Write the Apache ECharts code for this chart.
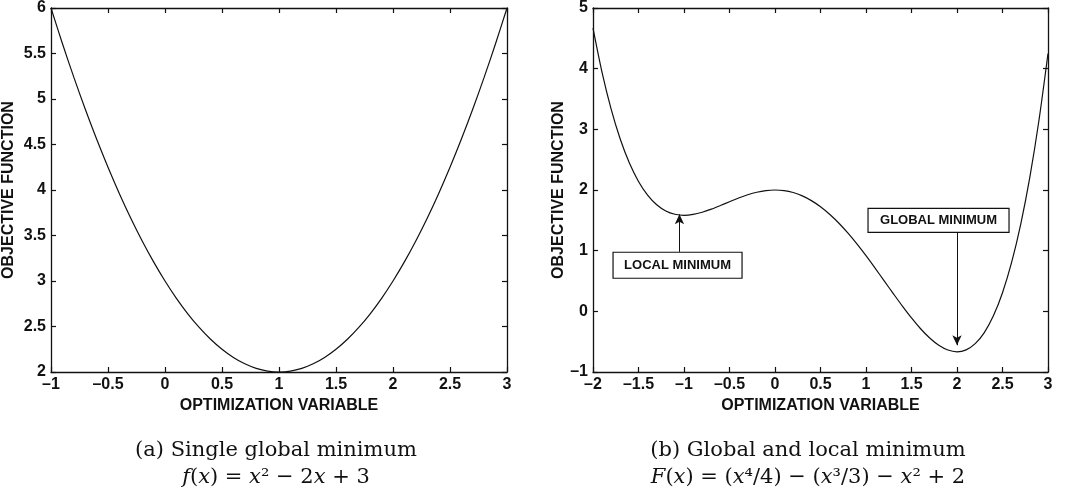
<!DOCTYPE html>
<html>
<head>
<meta charset="utf-8">
<script src="https://cdn.jsdelivr.net/npm/echarts@6/dist/echarts.min.js"></script>
<style>
	html, body { margin: 0; padding: 0; background: #fff; }
	#chart { width: 1065px; height: 496px; }
</style>
</head>
<body>
<div id="chart"></div>
<script>
// (a) f(x) = x^2 - 2x + 3
var xLeft = [-1, -0.9, -0.8, -0.7, -0.6, -0.5, -0.4, -0.3, -0.2, -0.1, 0, 0.1, 0.2, 0.3, 0.4, 0.5, 0.6, 0.7, 0.8, 0.9, 1,
	1.1, 1.2, 1.3, 1.4, 1.5, 1.6, 1.7, 1.8, 1.9, 2, 2.1, 2.2, 2.3, 2.4, 2.5, 2.6, 2.7, 2.8, 2.9, 3]
var yLeft = [6, 5.61, 5.24, 4.89, 4.56, 4.25, 3.96, 3.69, 3.44, 3.21, 3, 2.81, 2.64, 2.49, 2.36, 2.25, 2.16, 2.09, 2.04, 2.01, 2,
	2.01, 2.04, 2.09, 2.16, 2.25, 2.36, 2.49, 2.64, 2.81, 3, 3.21, 3.44, 3.69, 3.96, 4.25, 4.56, 4.89, 5.24, 5.61, 6]

// (b) F(x) = (x^4/4) - (x^3/3) - x^2 + 2
var xRight = [-2, -1.9, -1.8, -1.7, -1.6, -1.5, -1.4, -1.3, -1.2, -1.1, -1, -0.9, -0.8, -0.7, -0.6, -0.5, -0.4, -0.3, -0.2, -0.1, 0,
	0.1, 0.2, 0.3, 0.4, 0.5, 0.6, 0.7, 0.8, 0.9, 1, 1.1, 1.2, 1.3, 1.4, 1.5, 1.6, 1.7, 1.8, 1.9, 2,
	2.1, 2.2, 2.3, 2.4, 2.5, 2.6, 2.7, 2.8, 2.9, 3]
var yRight = [4.667, 3.934, 3.328, 2.836, 2.444, 2.141, 1.915, 1.756, 1.654, 1.6, 1.583, 1.597, 1.633, 1.684, 1.744, 1.807, 1.868, 1.921, 1.963, 1.99, 2,
	1.99, 1.958, 1.903, 1.825, 1.724, 1.6, 1.456, 1.292, 1.111, 0.917, 0.712, 0.502, 0.292, 0.086, -0.109, -0.287, -0.44, -0.56, -0.638, -0.667,
	-0.635, -0.533, -0.35, -0.074, 0.307, 0.806, 1.435, 2.209, 3.142, 4.25]

// axis ranges / ticks
var xTicksLeft = { min: -1, max: 3, interval: 0.5 }
var yTicksLeft = { min: 2, max: 6, interval: 0.5 }
var xTicksRight = { min: -2, max: 3, interval: 0.5 }
var yTicksRight = { min: -1, max: 5, interval: 1 }

// annotations: label, box centre (data), arrow x, arrow from y, arrow to y
var localMin = { text: 'LOCAL MINIMUM', box: [-1.071, 0.76], arrowX: -1.05, from: 0.98, to: 1.6 }
var globalMin = { text: 'GLOBAL MINIMUM', box: [1.797, 1.5], arrowX: 2, from: 1.3, to: -0.56 }

var captionA = ['(a) Single global minimum', '{i|f}({i|x}) = {i|x}² − 2{i|x} + 3']
var captionB = ['(b) Global and local minimum', '{i|F}({i|x}) = ({i|x}⁴/4) − ({i|x}³/3) − {i|x}² + 2']

var SANS = 'Liberation Sans, Arial, Helvetica, sans-serif'
var SERIF = 'DejaVu Serif, Liberation Serif, serif'

var fmt = (v) => String(v).replace('-', '–')

var mainAxis = (ticks, gridIndex, position, name, nameGap) => ({
	type: 'value',
	gridIndex: gridIndex,
	position: position,
	min: ticks.min,
	max: ticks.max,
	interval: ticks.interval,
	name: name,
	nameLocation: 'middle',
	nameGap: nameGap,
	nameTextStyle: { fontFamily: SANS, fontWeight: 'bold', fontSize: 16, color: '#111' },
	axisLine: { show: true, onZero: false, lineStyle: { color: '#111', width: 1.3 } },
	axisTick: { show: true, inside: true, length: 5, lineStyle: { color: '#111', width: 1.2 } },
	axisLabel: { show: true, formatter: fmt, fontFamily: SANS, fontWeight: 'bold', fontSize: 16, color: '#111', margin: 5 },
	splitLine: { show: false },
})

var boxAxis = (ticks, gridIndex, position) => ({
	type: 'value',
	gridIndex: gridIndex,
	position: position,
	min: ticks.min,
	max: ticks.max,
	interval: ticks.interval,
	axisLine: { show: true, onZero: false, lineStyle: { color: '#111', width: 1.3 } },
	axisTick: { show: true, inside: true, length: 5, lineStyle: { color: '#111', width: 1.2 } },
	axisLabel: { show: false },
	splitLine: { show: false },
})

var arrowLines = [localMin, globalMin].map((a) => [
	{ coord: [a.arrowX, a.from] },
	{ coord: [a.arrowX, a.to] },
])

var captionText = (cx, c) => [
	{
		type: 'text',
		x: cx,
		y: 451,
		style: { text: c[0], align: 'center', verticalAlign: 'middle', font: '21px ' + SERIF, fill: '#111' },
	},
	{
		type: 'text',
		x: cx,
		y: 478,
		style: {
			text: c[1],
			align: 'center',
			verticalAlign: 'middle',
			font: '21px ' + SERIF,
			fill: '#111',
			rich: {
				i: { fontFamily: SERIF, fontStyle: 'italic', fontSize: 21, fill: '#111' },
			},
		},
	},
]

var chart = echarts.init(document.getElementById('chart'), null, { renderer: 'canvas' })

var option = {
	animation: false,
	backgroundColor: '#fff',
	grid: [
		{ left: 51, top: 7, width: 456, height: 365 },
		{ left: 593, top: 7, width: 455, height: 365 },
	],
	xAxis: [
		mainAxis(xTicksLeft, 0, 'bottom', 'OPTIMIZATION VARIABLE', 22),
		boxAxis(xTicksLeft, 0, 'top'),
		mainAxis(xTicksRight, 1, 'bottom', 'OPTIMIZATION VARIABLE', 22),
		boxAxis(xTicksRight, 1, 'top'),
	],
	yAxis: [
		mainAxis(yTicksLeft, 0, 'left', 'OBJECTIVE FUNCTION', 34),
		boxAxis(yTicksLeft, 0, 'right'),
		mainAxis(yTicksRight, 1, 'left', 'OBJECTIVE FUNCTION', 26),
		boxAxis(yTicksRight, 1, 'right'),
	],
	series: [
		{
			type: 'line',
			xAxisIndex: 0,
			yAxisIndex: 0,
			data: xLeft.map((x, i) => [x, yLeft[i]]),
			smooth: 0.3,
			showSymbol: false,
			lineStyle: { color: '#111', width: 1.2 },
		},
		{
			type: 'line',
			xAxisIndex: 2,
			yAxisIndex: 2,
			data: xRight.map((x, i) => [x, yRight[i]]),
			smooth: 0.3,
			showSymbol: false,
			lineStyle: { color: '#111', width: 1.2 },
			markLine: {
				silent: true,
				animation: false,
				symbol: ['none', 'arrow'],
				symbolSize: [7, 10],
				lineStyle: { color: '#111', width: 1, type: 'solid' },
				label: { show: false },
				data: arrowLines,
			},
		},
	],
	graphic: captionText(276, captionA).concat(captionText(808, captionB)),
}

chart.setOption(option)

// label boxes, placed through the right panel's scales
var labelBox = (a, w, h) => {
	var p = chart.convertToPixel({ xAxisIndex: 2, yAxisIndex: 2 }, a.box)
	return {
		type: 'group',
		x: p[0],
		y: p[1],
		children: [
			{
				type: 'rect',
				shape: { x: -w / 2, y: -h / 2, width: w, height: h },
				style: { fill: '#fff', stroke: '#111', lineWidth: 1.2 },
			},
			{
				type: 'text',
				style: {
					text: a.text,
					align: 'center',
					verticalAlign: 'middle',
					font: 'bold 13px ' + SANS,
					fill: '#111',
				},
			},
		],
	}
}

chart.setOption({
	graphic: option.graphic.concat([labelBox(localMin, 129, 26), labelBox(globalMin, 141, 24)]),
})
</script>
</body>
</html>
